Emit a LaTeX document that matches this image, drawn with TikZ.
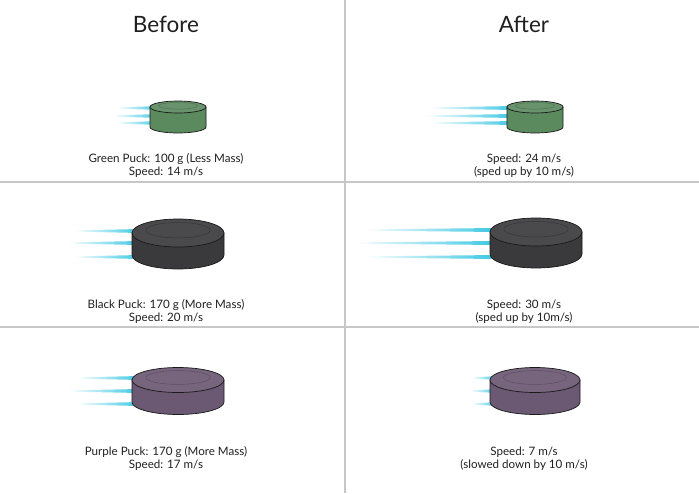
\documentclass[tikz,border=0pt]{standalone}
\usepackage{fontspec}
\setmainfont{Lato}
\usepackage{tikz}
\colorlet{grid}{black!22}
\definecolor{streak}{HTML}{38C6E2}
\definecolor{greenpuck}{HTML}{5B8A5F}
\definecolor{blackpuck}{HTML}{3A3A3C}
\definecolor{purplepuck}{HTML}{6B5872}
\tikzset{
  % node options
  heading/.style={font=\fontsize{22.5}{26}\selectfont,text=black!88},
  caption/.style={align=center,font=\fontsize{11.6}{13.2}\selectfont,text=black!88},
  % path options
  divider/.style={draw=grid,line width=1.2pt},
  puckline/.style={draw=black!90,line width=0.7pt},
}
% start x, end x, y
\newcommand\speedline[3]{%
  \shade[left color=white,right color=streak] (#1,{#3-0.6}) -- (#2,{#3-2})
    -- (#2,{#3+2}) -- (#1,{#3+0.6}) -- cycle;}
% centre x, top centre y, x radius, y radius, height, colour
\newcommand\hockeypuck[6]{%
  \filldraw[puckline,fill=#6] ({#1-#3},#2) -- ++(0,#5)
    arc[start angle=180,end angle=360,x radius=#3pt,y radius=#4pt] -- ++(0,-#5) -- cycle;
  \filldraw[puckline,fill=#6!92!white] (#1,#2) ellipse[x radius=#3pt,y radius=#4pt];
  \draw[#6!70!black,line width=0.5pt,opacity=0.6] (#1,{#2-0.2*#4})
    ellipse[x radius={0.7*#3pt},y radius={0.55*#4pt}];}

\begin{document}
\begin{tikzpicture}[x=1pt,y=-1pt]
  \useasboundingbox (0,0) rectangle (699,493);
  \draw[divider] (345,0) -- (345,493);
  \draw[divider] (0,182) -- (699,182);
  \draw[divider] (0,327) -- (699,327);
  \node[heading] (before) at (166,24) {Before};
  \node[heading] (after) at (524,24) {After};
  % green puck
  \foreach \y/\x in {108/117,116/113,123/117} {\speedline{\x}{160}{\y}}
  \hockeypuck{178}{107}{28}{6}{20}{greenpuck}
  \foreach \y/\x in {108/430,116/425,123/430} {\speedline{\x}{515}{\y}}
  \hockeypuck{535}{107}{28}{6}{20}{greenpuck}
  \node[caption] (greenbefore) at (166,165.5) {Green Puck: 100 g (Less Mass)\\Speed: 14 m/s};
  \node[caption] (greenafter) at (524,165.5) {Speed: 24 m/s\\(sped up by 10 m/s)};
  % black puck
  \foreach \y/\x in {231/75,243/68,257/75} {\speedline{\x}{140}{\y}}
  \hockeypuck{178}{233}{46}{14}{22}{blackpuck}
  \foreach \y/\x in {230/365,243/353,257/365} {\speedline{\x}{498}{\y}}
  \hockeypuck{536}{232}{46}{14}{22}{blackpuck}
  \node[caption] (blackbefore) at (166,311.5) {Black Puck: 170 g (More Mass)\\Speed: 20 m/s};
  \node[caption] (blackafter) at (524,311.5) {Speed: 30 m/s\\(sped up by 10m/s)};
  % purple puck
  \foreach \y/\x in {378/77,391/68,404/77} {\speedline{\x}{140}{\y}}
  \hockeypuck{178}{380}{46}{12.5}{22}{purplepuck}
  \foreach \y/\x in {378/472,391/470,404/472} {\speedline{\x}{498}{\y}}
  \hockeypuck{535}{380}{45}{12.5}{22}{purplepuck}
  \node[caption] (purplebefore) at (166,458.5) {Purple Puck: 170 g (More Mass)\\Speed: 17 m/s};
  \node[caption] (purpleafter) at (524,458.5) {Speed: 7 m/s\\(slowed down by 10 m/s)};
\end{tikzpicture}
\end{document}
